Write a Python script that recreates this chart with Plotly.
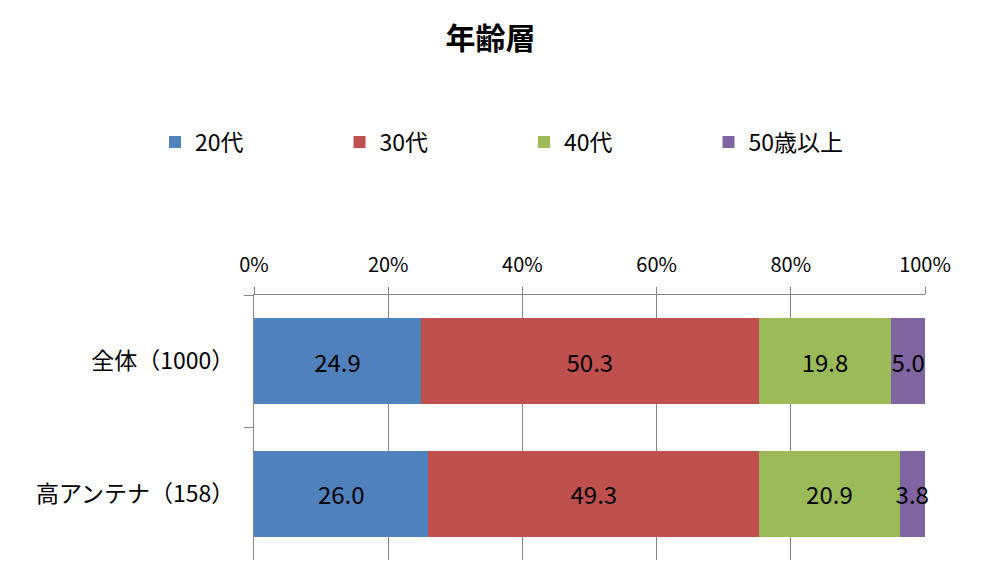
import plotly.graph_objects as go

categories = ["全体（1000）", "高アンテナ（158）"]
series_names = ["20代", "30代", "40代", "50歳以上"]
v20 = [24.9, 26.0]
v30 = [50.3, 49.3]
v40 = [19.8, 20.9]
v50 = [5.0, 3.8]
tick_vals = [0, 20, 40, 60, 80, 100]
tick_text = ["0%", "20%", "40%", "60%", "80%", "100%"]

colors = ["#4F81BD", "#C0504D", "#9BBB59", "#8064A2"]
FONT = "Noto Sans CJK JP, sans-serif"

W, H = 981, 588
ML, MR, MT, MB = 254, 56, 295, 28
PW, PH = W - ML - MR, H - MT - MB

fig = go.Figure()
for name, vals, col in zip(series_names, [v20, v30, v40, v50], colors):
    fig.add_trace(go.Bar(
        y=categories, x=vals, name=name, orientation="h",
        marker=dict(color=col, line=dict(width=0)),
        text=[f"{v:.1f}" for v in vals],
        textposition="inside", insidetextanchor="middle",
        textfont=dict(size=24, color="black", family=FONT),
        cliponaxis=False,
    ))

fig.update_layout(
    width=W, height=H,
    barmode="stack", bargap=0.35,
    plot_bgcolor="white", paper_bgcolor="white",
    font=dict(family=FONT, color="black"),
    margin=dict(l=ML, r=MR, t=MT, b=MB),
    uniformtext=dict(minsize=24, mode="show"),
    title=dict(text="<b>年齢層</b>", x=0.5, xref="container", xanchor="center",
               y=1 - 38 / H, yref="container", yanchor="middle",
               font=dict(size=30, family=FONT, color="black")),
    legend=dict(orientation="h", xref="paper", yref="paper",
                x=(155 - ML) / PW, y=(H - MB - 142) / PH,
                xanchor="left", yanchor="middle",
                entrywidth=139.5, entrywidthmode="pixels",
                font=dict(size=23, family=FONT), traceorder="normal",
                itemclick=False, bgcolor="rgba(0,0,0,0)"),
    xaxis=dict(side="top", range=[0, 100], tickvals=tick_vals, ticktext=tick_text,
               showgrid=True, gridcolor="#868686", gridwidth=1.3,
               showline=True, linecolor="#868686", linewidth=1.3,
               ticks="outside", ticklen=7, tickcolor="#868686", tickwidth=1.3,
               ticklabelstandoff=7,
               tickfont=dict(size=20, family=FONT), zeroline=False, fixedrange=True),
    yaxis=dict(autorange="reversed", tickson="boundaries", ticks="outside",
               ticklen=9, tickcolor="#868686", tickwidth=1.3,
               showline=True, linecolor="#868686", linewidth=1.3,
               ticklabelstandoff=14,
               tickfont=dict(size=23, family=FONT), showgrid=False, fixedrange=True),
)

fig.write_html("out.html")
